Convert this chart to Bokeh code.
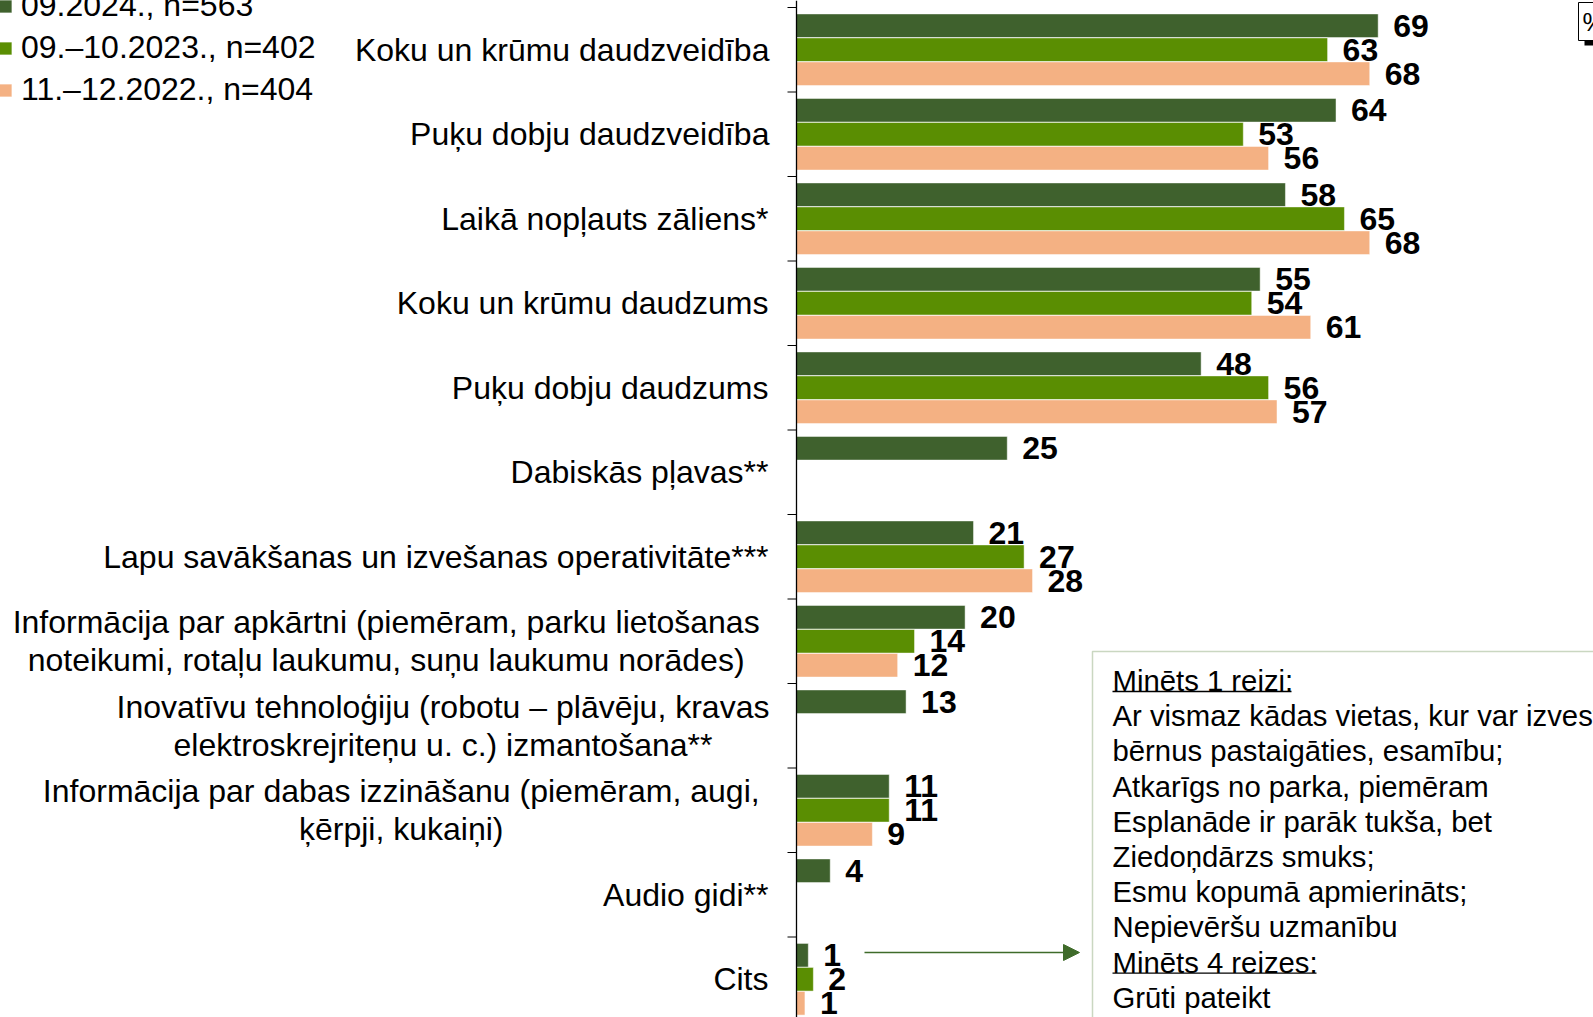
import unicodedata
from bokeh.plotting import figure
from bokeh.models import (Range1d, Legend, LegendItem, ColumnDataSource,
                          BoxAnnotation, Arrow, NormalHead, Label, Span)
from bokeh.core.properties import value
from bokeh.embed import file_html
from bokeh.resources import INLINE

# ---------------- data ----------------
categories = [
    "Koku un krūmu daudzveidība",
    "Puķu dobju daudzveidība",
    "Laikā nopļauts zāliens*",
    "Koku un krūmu daudzums",
    "Puķu dobju daudzums",
    "Dabiskās pļavas**",
    "Lapu savākšanas un izvešanas operativitāte***",
    "Informācija par apkārtni (piemēram, parku lietošanas \nnoteikumi, rotaļu laukumu, suņu laukumu norādes)",
    "Inovatīvu tehnoloģiju (robotu – plāvēju, kravas\nelektroskrejriteņu u. c.) izmantošana**",
    "Informācija par dabas izzināšanu (piemēram, augi, \nķērpji, kukaiņi)",
    "Audio gidi**",
    "Cits",
]
s2024 = [69, 64, 58, 55, 48, 25, 21, 20, 13, 11, 4, 1.4]
s2023 = [63, 53, 65, 54, 56, None, 27, 14, None, 11, None, 2]
s2022 = [68, 56, 68, 61, 57, None, 28, 12, None, 9, None, 1]
series_names = ["09.2024., n=563", "09.–10.2023., n=402", "11.–12.2022., n=404"]
note_lines = [
    "Minēts 1 reizi:",
    "Ar vismaz kādas vietas, kur var izvest",
    "bērnus pastaigāties, esamību;",
    "Atkarīgs no parka, piemēram",
    "Esplanāde ir parāk tukša, bet",
    "Ziedoņdārzs smuks;",
    "Esmu kopumā apmierināts;",
    "Nepievēršu uzmanību",
    "Minēts 4 reizes:",
    "Grūti pateikt",
]
underlined = [0, 8]
underline_px = [179, 204]

# ---------------- styles / layout ----------------
colors = ["#3F612D", "#5A8E02", "#F4B183"]
FONT = "Liberation Sans"
W, H = 1593, 1017
AXIS_X = 796          # canvas x of the value axis zero
PX = 8.43             # px per percentage point
BAND = 84.5           # px per category
FIRST_CENTER = 49.25  # canvas y of the first category centre
BAR_H = 0.28
BAR_STEP = 0.284
CAT_FS = 32
LABEL_GAP = 28

# Arial / Liberation Sans advance widths (1/1000 em) used to centre wrapped labels
_AW = {' ': 278, '(': 333, ')': 333, '*': 389, ',': 278, '-': 333, '.': 278, '–': 556,
       ':': 278, ';': 278, '=': 584}
_AW.update({d: 556 for d in "0123456789"})
_AW.update(dict(zip("ABCDEFGHIJKLMNOPQRSTUVWXYZ",
                    [667, 667, 722, 722, 667, 611, 778, 722, 278, 500, 667, 556, 833,
                     722, 778, 667, 778, 722, 667, 611, 722, 667, 944, 667, 667, 611])))
_AW.update(dict(zip("abcdefghijklmnopqrstuvwxyz",
                    [556, 556, 500, 556, 556, 278, 556, 556, 222, 222, 500, 222, 833,
                     556, 556, 556, 556, 333, 500, 278, 556, 500, 722, 500, 500, 500])))


def text_width(s, size):
    tot = 0
    for ch in s:
        base = unicodedata.normalize("NFD", ch)[0]
        tot += _AW.get(base, 556)
    return tot * size / 1000.0


def xd(px):   # canvas px -> data x
    return (px - AXIS_X) / PX


def yd(px):   # canvas px -> data y (category index units)
    return (px - FIRST_CENTER) / BAND


p = figure(width=W, height=H, output_backend="svg", toolbar_location=None,
           x_range=Range1d(xd(0), xd(W)), y_range=Range1d(yd(H), yd(0)),
           min_border_left=0, min_border_right=0, min_border_top=0, min_border_bottom=0,
           x_axis_location=None, y_axis_location=None)
p.outline_line_color = None
p.xgrid.visible = False
p.ygrid.visible = False
p.background_fill_color = "white"
p.border_fill_color = "white"

# ---- category axis (line, boundary ticks, labels) ----
p.add_layout(Span(location=0, dimension="height", line_color="black", line_width=1.3))
nb = len(categories) + 1
p.segment(x0=[xd(AXIS_X - 9)] * nb, x1=[0] * nb,
          y0=[i - 0.5 for i in range(nb)], y1=[i - 0.5 for i in range(nb)],
          line_color="black", line_width=1)

right_edge = AXIS_X - LABEL_GAP
lab_x, lab_y, lab_t = [], [], []
line_pitch = 37.6 / BAND
for i, cat in enumerate(categories):
    lines = cat.split("\n")
    raw_w = [text_width(l, CAT_FS) for l in lines]
    widest = lines[raw_w.index(max(raw_w))]
    pad = max(raw_w) - text_width(widest.rstrip(), CAT_FS)   # trailing space of wrapped line
    vis_w = max(text_width(l.rstrip(), CAT_FS) for l in lines)
    cx = xd(right_edge - pad - vis_w / 2.0)
    n = len(lines)
    for j, l in enumerate(lines):
        lab_x.append(cx)
        lab_y.append(i + (j - (n - 1) / 2.0) * line_pitch)
        lab_t.append(l.rstrip())
p.text(x="x", y="y", text="t", source=ColumnDataSource(dict(x=lab_x, y=lab_y, t=lab_t)),
       text_align="center", text_baseline="middle", text_font=value(FONT),
       text_font_size=f"{CAT_FS}px", text_color="black")

# ---- bars and value labels ----
series = [s2024, s2023, s2022]
renderers = []
for k, (vals, col) in enumerate(zip(series, colors)):
    idx = [i for i, v in enumerate(vals) if v is not None]
    src = ColumnDataSource(dict(
        y=[i + (k - 1) * BAR_STEP for i in idx],
        right=[vals[i] for i in idx],
        lab=[f"{vals[i]:.0f}" for i in idx],
    ))
    r = p.hbar(y="y", left=0, right="right", height=BAR_H, source=src,
               fill_color=col, line_color="white", line_width=0.8, line_alpha=0.6)
    renderers.append(r)
    p.text(x="right", y="y", text="lab", source=src, x_offset=15,
           text_baseline="middle", text_align="left",
           text_font=value(FONT), text_font_style="bold",
           text_font_size="32px", text_color="black")

# ---- legend (top-left, first row partly above the page) ----
legend = Legend(items=[LegendItem(label=n, renderers=[r]) for n, r in zip(series_names, renderers)],
                location=(-3, H - 108), orientation="vertical",
                label_text_font=FONT, label_text_font_size="32px", label_text_color="black",
                glyph_width=16, glyph_height=16, label_standoff=8, spacing=5,
                padding=0, margin=0, border_line_color=None, background_fill_alpha=0)
p.add_layout(legend)

# ---- note box ----
p.add_layout(BoxAnnotation(left=xd(1092), right=xd(W + 200), top=yd(651), bottom=yd(H + 200),
                           fill_alpha=0, line_color="#4E7A32", line_width=1.5))
text_x = xd(1112)
line0 = yd(680)
pitch = 35.2 / BAND
src_note = ColumnDataSource(dict(x=[text_x] * len(note_lines),
                                 y=[line0 + i * pitch for i in range(len(note_lines))],
                                 t=note_lines))
p.text(x="x", y="y", text="t", source=src_note, text_baseline="middle", text_align="left",
       text_font=value(FONT), text_font_size="29.3px", text_color="black")
for li, wpx in zip(underlined, underline_px):
    yy = line0 + li * pitch + 11 / BAND
    p.segment(x0=[text_x], y0=[yy], x1=[text_x + wpx / PX], y1=[yy],
              line_color="black", line_width=1.3)

# ---- arrow from "Cits" to the note box ----
p.add_layout(Arrow(end=NormalHead(size=16, fill_color="#3F6B2A", line_color="#3F6B2A"),
                   x_start=xd(864), y_start=yd(952), x_end=xd(1079), y_end=yd(952),
                   line_color="#3F6B2A", line_width=1.5))

# ---- "%" box in the top-right corner ----
p.add_layout(Label(x=1584, y=H - 45, x_units="screen", y_units="screen",
                   text="%", text_font=FONT, text_font_size="26px", text_color="black",
                   background_fill_color="black", padding=4))
p.add_layout(Label(x=1578, y=H - 40, x_units="screen", y_units="screen",
                   text="%", text_font=FONT, text_font_size="26px", text_color="black",
                   background_fill_color="white", border_line_color="black", padding=4))

open("out.html", "w").write(file_html(p, INLINE))
